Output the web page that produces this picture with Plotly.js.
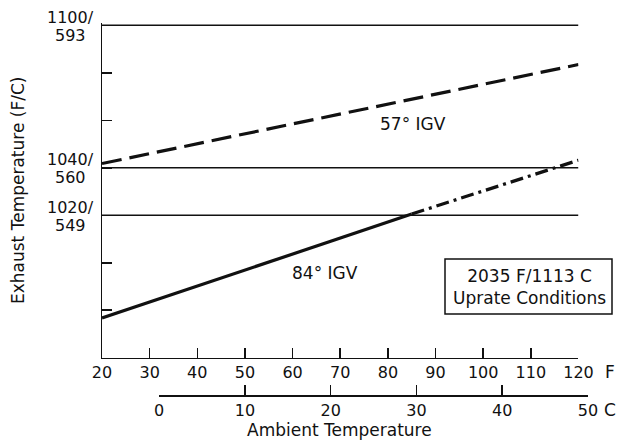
<!DOCTYPE html>
<html>
<head>
<meta charset="utf-8">
<script src="https://cdn.plot.ly/plotly-3.0.1.min.js"></script>
<style>html,body{margin:0;padding:0;background:#fff;}</style>
</head>
<body>
<div id="chart" style="width:620px;height:443px;"></div>
<script>
// ---- data ----
const fRange = [20, 120];            // ambient temperature axis, F
const cRange = [0, 50];              // ambient temperature axis, C
const igv57F = [20, 120];
const igv57T = [1041.8, 1083.5];     // exhaust temp, F (57° IGV, dashed)
const igv84SolidF = [20, 85];
const igv84SolidT = [976.7, 1020.5]; // 84° IGV, solid part
const igv84DashF = [85, 120];
const igv84DashT = [1020.5, 1043.2]; // 84° IGV, dash-dot part
const refLevelsF = [1100, 1040, 1020];
const refLevelsC = [593, 560, 549];
const seriesLabels = ["57° IGV", "84° IGV"];
const labelPosF = [85.3, 66.9];
const labelPosT = [1058.4, 995.6];
const boxText = ["2035 F/1113 C", "Uprate Conditions"];

// ---- geometry helpers ----
const W = 620, H = 443;
const M = {l: 102, r: 32, t: 23, b: 48};
const PW = W - M.l - M.r, PH = H - M.t - M.b;
const px = x => (x - M.l) / PW;        // pixel x -> paper x
const py = y => (M.t + PH - y) / PH;   // pixel y -> paper y
const yDomBottom = py(357.7);
const fFull = 122 - 20;                 // F span covered by both scales
const FONT = "DejaVu Sans";
const INK = "#111";

const traces = [];
refLevelsF.forEach(v => traces.push({
  x: fRange, y: [v, v], mode: "lines", xaxis: "x", yaxis: "y",
  line: {color: INK, width: 1.5}, hoverinfo: "skip", showlegend: false
}));
traces.push({x: igv57F, y: igv57T, mode: "lines",
  line: {color: INK, width: 3.2, dash: "20px,8px"}, showlegend: false});
traces.push({x: igv84SolidF, y: igv84SolidT, mode: "lines",
  line: {color: INK, width: 3.2}, showlegend: false});
traces.push({x: igv84DashF, y: igv84DashT, mode: "lines",
  line: {color: INK, width: 3.2, dash: "13px,5px,3px,5px"}, showlegend: false});
// invisible helper trace so the Celsius axis is drawn
traces.push({x: cRange, y: [960, 960], xaxis: "x2", yaxis: "y", mode: "markers",
  marker: {opacity: 0}, hoverinfo: "skip", showlegend: false});

const txt = (o) => Object.assign({showarrow: false, xanchor: "center", yanchor: "middle",
  font: {family: FONT, size: 17, color: INK}}, o);

const annotations = [];
refLevelsF.forEach((v, i) => {
  annotations.push(txt({xref: "paper", yref: "y", x: px(70.5), y: v, yshift: 8,
    text: v + "/", font: {family: FONT, size: 16, color: INK}}));
  annotations.push(txt({xref: "paper", yref: "y", x: px(70.5), y: v, yshift: -10,
    text: String(refLevelsC[i]), font: {family: FONT, size: 16, color: INK}}));
});
seriesLabels.forEach((t, i) => annotations.push(txt({
  xref: "x", yref: "y", x: labelPosF[i], y: labelPosT[i], text: t})));
annotations.push(txt({xref: "paper", yref: "paper", x: px(529), y: py(286.5),
  text: boxText.join("<br>"), align: "center"}));
annotations.push(txt({xref: "paper", yref: "paper", x: px(18), y: py(191), textangle: -90,
  text: "Exhaust Temperature (F/C)"}));
annotations.push(txt({xref: "paper", yref: "paper", x: px(610), y: py(371.7), text: "F"}));
annotations.push(txt({xref: "paper", yref: "paper", x: px(610), y: py(410), text: "C"}));
annotations.push(txt({xref: "paper", yref: "paper", x: px(339), y: py(430),
  text: "Ambient Temperature"}));

const layout = {
  width: W, height: H, margin: M, paper_bgcolor: "#fff", plot_bgcolor: "rgba(0,0,0,0)",
  showlegend: false,
  font: {family: FONT, size: 16, color: INK},
  xaxis: {domain: [0, (fRange[1] - fRange[0]) / fFull], range: fRange, anchor: "y",
    showline: true, linecolor: INK, linewidth: 1.5, ticks: "inside", ticklen: 10,
    tickwidth: 1.5, tickcolor: INK, dtick: 10, tick0: 20, showgrid: false,
    zeroline: false, tickfont: {family: FONT, size: 16, color: INK}},
  xaxis2: {domain: [12 / fFull, 1], range: cRange, anchor: "free", position: 0,
    showline: true, linecolor: INK, linewidth: 1.5,
    ticks: "inside", ticklen: 10, tickwidth: 1.5, tickcolor: INK, dtick: 10, tick0: 0,
    showgrid: false, zeroline: false, tickfont: {family: FONT, size: 16, color: INK}},
  yaxis: {domain: [yDomBottom, 1], range: [960, 1101], showline: true, linecolor: INK,
    linewidth: 1.5, ticks: "inside", ticklen: 10, tickwidth: 1.5, tickcolor: INK,
    dtick: 20, tick0: 960, showticklabels: false, showgrid: false, zeroline: false},
  shapes: [{type: "rect", xref: "paper", yref: "paper", x0: px(445), x1: px(612),
    y0: py(314), y1: py(259), line: {color: INK, width: 1.5}}],
  annotations: annotations
};

Plotly.newPlot("chart", traces, layout, {displayModeBar: false, staticPlot: true});
</script>
</body>
</html>
